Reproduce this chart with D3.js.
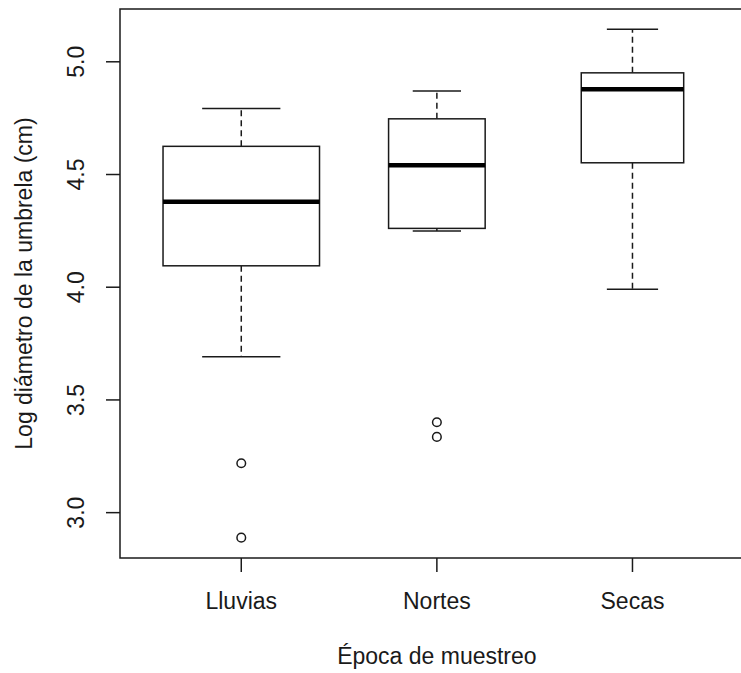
<!DOCTYPE html>
<html>
<head>
<meta charset="utf-8">
<script src="https://cdn.jsdelivr.net/npm/d3@7"></script>
<style>
  html, body { margin: 0; padding: 0; background: #fff; }
  svg { display: block; font-family: "Liberation Sans", Arial, sans-serif; }
</style>
</head>
<body>
<svg id="chart" width="741" height="673"></svg>
<script>
// Sampling seasons and their box-plot statistics (log umbrella diameter, cm)
const categories = ["Lluvias", "Nortes", "Secas"];
const sampleSizes = [21, 8, 9];
const whiskerLow = [3.692, 4.249, 3.991];
const q1 = [4.095, 4.261, 4.552];
const median = [4.379, 4.541, 4.878];
const q3 = [4.625, 4.747, 4.951];
const whiskerHigh = [4.793, 4.870, 5.144];
const outliers = [[3.219, 2.889], [3.401, 3.336], []];
const yTicks = [3.0, 3.5, 4.0, 4.5, 5.0];
const yTickLabels = ["3.0", "3.5", "4.0", "4.5", "5.0"];

const xTitle = "Época de muestreo";
const yTitle = "Log diámetro de la umbrela (cm)";

const svg = d3.select("#chart");
const ink = "#1a1a1a";
const fontSize = 23;

// Plot region
const plotLeft = 120, plotTop = 9, plotBottom = 558;
const unit = 195.6;              // pixels per category step
const nCat = categories.length;

// x: category positions 1..n, padded like base R (0.5 each side, then 4%)
const xLo = 0.5 - 0.04 * nCat, xHi = nCat + 0.5 + 0.04 * nCat;
const x = d3.scaleLinear().domain([xLo, xHi]).range([plotLeft, plotLeft + (xHi - xLo) * unit]);

// y: full data range extended by 4%
const allVals = whiskerLow.concat(whiskerHigh, outliers.flat());
const yMin = d3.min(allVals), yMax = d3.max(allVals);
const pad = 0.04 * (yMax - yMin);
const y = d3.scaleLinear().domain([yMin - pad, yMax + pad]).range([plotBottom, plotTop]);

// Box widths proportional to sqrt(sample size)
const maxSqrt = d3.max(sampleSizes, s => Math.sqrt(s));
const boxW = sampleSizes.map(s => 0.8 * Math.sqrt(s) / maxSqrt * (x(2) - x(1)));

const g = svg.append("g");

categories.forEach((c, i) => {
  const cx = x(i + 1);
  const w = boxW[i];

  // dashed whiskers
  g.append("line").attr("x1", cx).attr("x2", cx)
    .attr("y1", y(q3[i])).attr("y2", y(whiskerHigh[i]))
    .attr("stroke", ink).attr("stroke-width", 1.5).attr("stroke-dasharray", "6,4");
  g.append("line").attr("x1", cx).attr("x2", cx)
    .attr("y1", y(q1[i])).attr("y2", y(whiskerLow[i]))
    .attr("stroke", ink).attr("stroke-width", 1.5).attr("stroke-dasharray", "6,4");

  // staples
  [whiskerHigh[i], whiskerLow[i]].forEach(v => {
    g.append("line").attr("x1", cx - w / 4).attr("x2", cx + w / 4)
      .attr("y1", y(v)).attr("y2", y(v))
      .attr("stroke", ink).attr("stroke-width", 1.5);
  });

  // box
  g.append("rect")
    .attr("x", cx - w / 2).attr("y", y(q3[i]))
    .attr("width", w).attr("height", y(q1[i]) - y(q3[i]))
    .attr("fill", "#fff").attr("stroke", ink).attr("stroke-width", 1.5);

  // median
  g.append("line").attr("x1", cx - w / 2).attr("x2", cx + w / 2)
    .attr("y1", y(median[i])).attr("y2", y(median[i]))
    .attr("stroke", "#000").attr("stroke-width", 4.5);

  // outliers
  outliers[i].forEach(v => {
    g.append("circle").attr("cx", cx).attr("cy", y(v)).attr("r", 4.3)
      .attr("fill", "none").attr("stroke", ink).attr("stroke-width", 1.5);
  });
});

// frame
svg.append("rect")
  .attr("x", plotLeft).attr("y", plotTop)
  .attr("width", x(xHi) - plotLeft).attr("height", plotBottom - plotTop)
  .attr("fill", "none").attr("stroke", ink).attr("stroke-width", 1.5);

// y axis ticks and rotated labels
yTicks.forEach((t, i) => {
  svg.append("line").attr("x1", plotLeft - 14).attr("x2", plotLeft)
    .attr("y1", y(t)).attr("y2", y(t))
    .attr("stroke", ink).attr("stroke-width", 1.5);
  svg.append("text")
    .attr("transform", `translate(84,${y(t)}) rotate(-90)`)
    .attr("text-anchor", "middle")
    .attr("font-size", fontSize).attr("fill", ink)
    .text(yTickLabels[i]);
});

// x axis ticks and labels
categories.forEach((c, i) => {
  const cx = x(i + 1);
  svg.append("line").attr("x1", cx).attr("x2", cx)
    .attr("y1", plotBottom).attr("y2", plotBottom + 14)
    .attr("stroke", ink).attr("stroke-width", 1.5);
  svg.append("text")
    .attr("x", cx).attr("y", 609)
    .attr("text-anchor", "middle")
    .attr("font-size", fontSize).attr("fill", ink)
    .text(c);
});

// axis titles
svg.append("text")
  .attr("x", x(2)).attr("y", 664)
  .attr("text-anchor", "middle")
  .attr("font-size", fontSize).attr("fill", ink)
  .text(xTitle);

svg.append("text")
  .attr("transform", `translate(32,${(plotTop + plotBottom) / 2}) rotate(-90)`)
  .attr("text-anchor", "middle")
  .attr("font-size", fontSize).attr("fill", ink)
  .text(yTitle);
</script>
</body>
</html>
